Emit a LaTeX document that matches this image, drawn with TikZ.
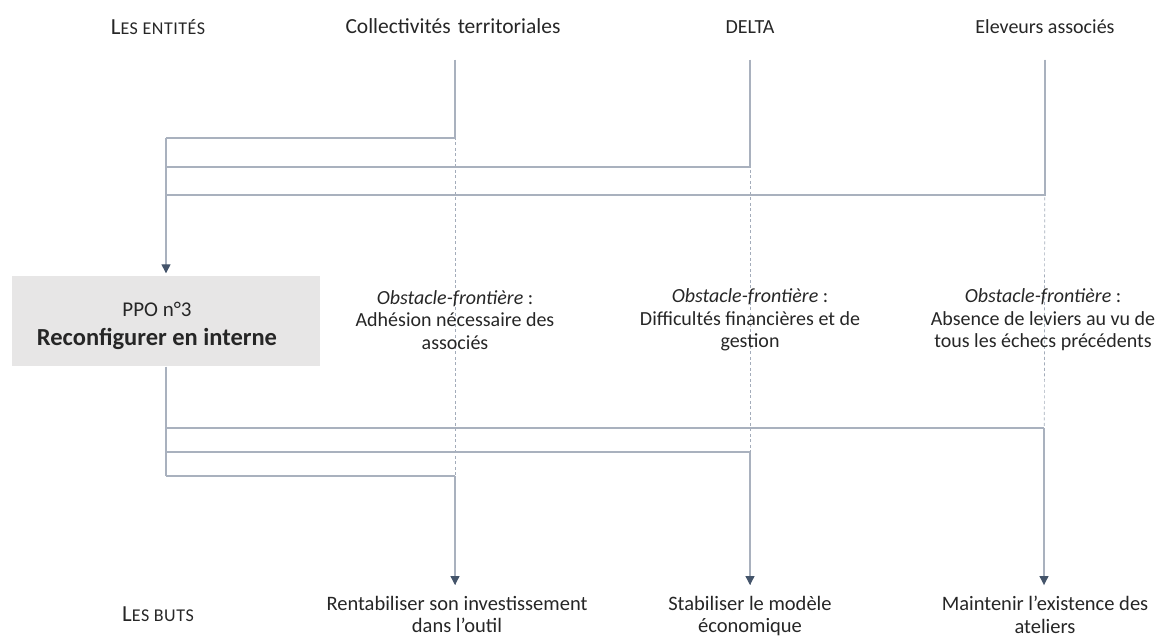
\documentclass[tikz,border=0pt]{standalone}
\usepackage{fontspec}
\setmainfont{Carlito}
\usetikzlibrary{arrows.meta}
\definecolor{linec}{HTML}{A9B1BE}
\definecolor{arrc}{HTML}{44546A}
\definecolor{guidec}{HTML}{A3ACBA}
\definecolor{boxc}{HTML}{E7E6E6}
\definecolor{txt}{HTML}{262626}
\newcommand{\fsc}[2]{{\fontsize{23}{23}\selectfont #1}{\fontsize{18}{23}\selectfont\addfontfeature{LetterSpace=3}#2}}
\begin{document}
\begin{tikzpicture}[x=1pt,y=-1pt,
  conn/.style={draw=linec, line width=1.4pt},
  arr/.style={conn, -{Triangle[length=9pt,width=9pt,fill=arrc,color=arrc]}},
  guide/.style={draw=guidec, line width=0.7pt, dash pattern=on 3pt off 2.5pt},
  lbl/.style={align=center, text=txt, font=\fontsize{20}{22.5}\selectfont, inner sep=0pt},
  goal/.style={lbl, font=\fontsize{20.5}{22.5}\selectfont},
  ppobox/.style={fill=boxc, minimum width=308pt, minimum height=90pt, inner sep=0pt}
]
\useasboundingbox (0,0) rectangle (1163,636);

% headers
\node[lbl] (hent) at (158,27) {\fsc{L}{ES ENTITÉS}};
\node[lbl, font=\fontsize{21.5}{23}\selectfont] (hcol) at (453,26) {Collectivités\hspace{0.33em}territoriales};
\node[lbl] (hdel) at (750,27) {DELTA};
\node[lbl] (hele) at (1045,27) {Eleveurs associés};

% column coordinates
\coordinate (c1t) at (455,60);
\coordinate (c2t) at (750,60);
\coordinate (c3t) at (1045,60);
\coordinate (c1b) at (455,585);
\coordinate (c2b) at (750,585);
\coordinate (c3b) at (1044,585);

% guides
\draw[guide] (c1t) -- (c1b);
\draw[guide] (c2t) -- (c2b);
\draw[guide] (c3t) -- (c3b);

% PPO box
\node[ppobox] (ppo) at (166,321.5) {};
\node[lbl, font=\fontsize{21}{23}\selectfont] (ppot) at (157,309) {PPO n°3};
\node[lbl, font=\fontsize{24.5}{26}\selectfont\bfseries] (ppob) at (157,339) {Reconfigurer en interne};

% obstacles
\node[lbl] (o1) at (455,320) {\textit{Obstacle-frontière} :\\Adhésion nécessaire des\\associés};
\node[lbl] (o2) at (750,320) {\textit{Obstacle-frontière} :\\Difficultés financières et de\\gestion};
\node[lbl] (o3) at (1043,320) {\textit{Obstacle-frontière} :\\Absence de leviers au vu de\\tous les échecs précédents};

% junctions top
\coordinate (j1) at (166,138);
\coordinate (j2) at (166,167);
\coordinate (j3) at (166,195);
\draw[conn] (c1t) |- (j1);
\draw[conn] (c2t) |- (j2);
\draw[conn] (c3t) |- (j3);
\draw[arr, shorten >=3pt] (j1) -- (ppo.north);

% junctions bottom
\coordinate (k3) at (166,428);
\coordinate (k2) at (166,452);
\coordinate (k1) at (166,476);
\draw[conn] (ppo.south) -- (k1);
\draw[conn] (k3) -- (1044,428);
\draw[conn] (k2) -- (750,452);
\draw[conn] (k1) -- (455,476);
\draw[arr] (1044,428) -- (c3b);
\draw[arr] (750,452) -- (c2b);
\draw[arr] (455,476) -- (c1b);

% goals
\node[goal, anchor=north] (g1) at (457,596) {Rentabiliser son investissement\\dans l’outil};
\node[goal, anchor=north] (g2) at (750,596) {Stabiliser le modèle\\économique};
\node[goal, anchor=north] (g3) at (1045,596) {Maintenir l’existence des\\ateliers};
\node[lbl] (hbut) at (158,614) {\fsc{L}{ES BUTS}};
\end{tikzpicture}
\end{document}
